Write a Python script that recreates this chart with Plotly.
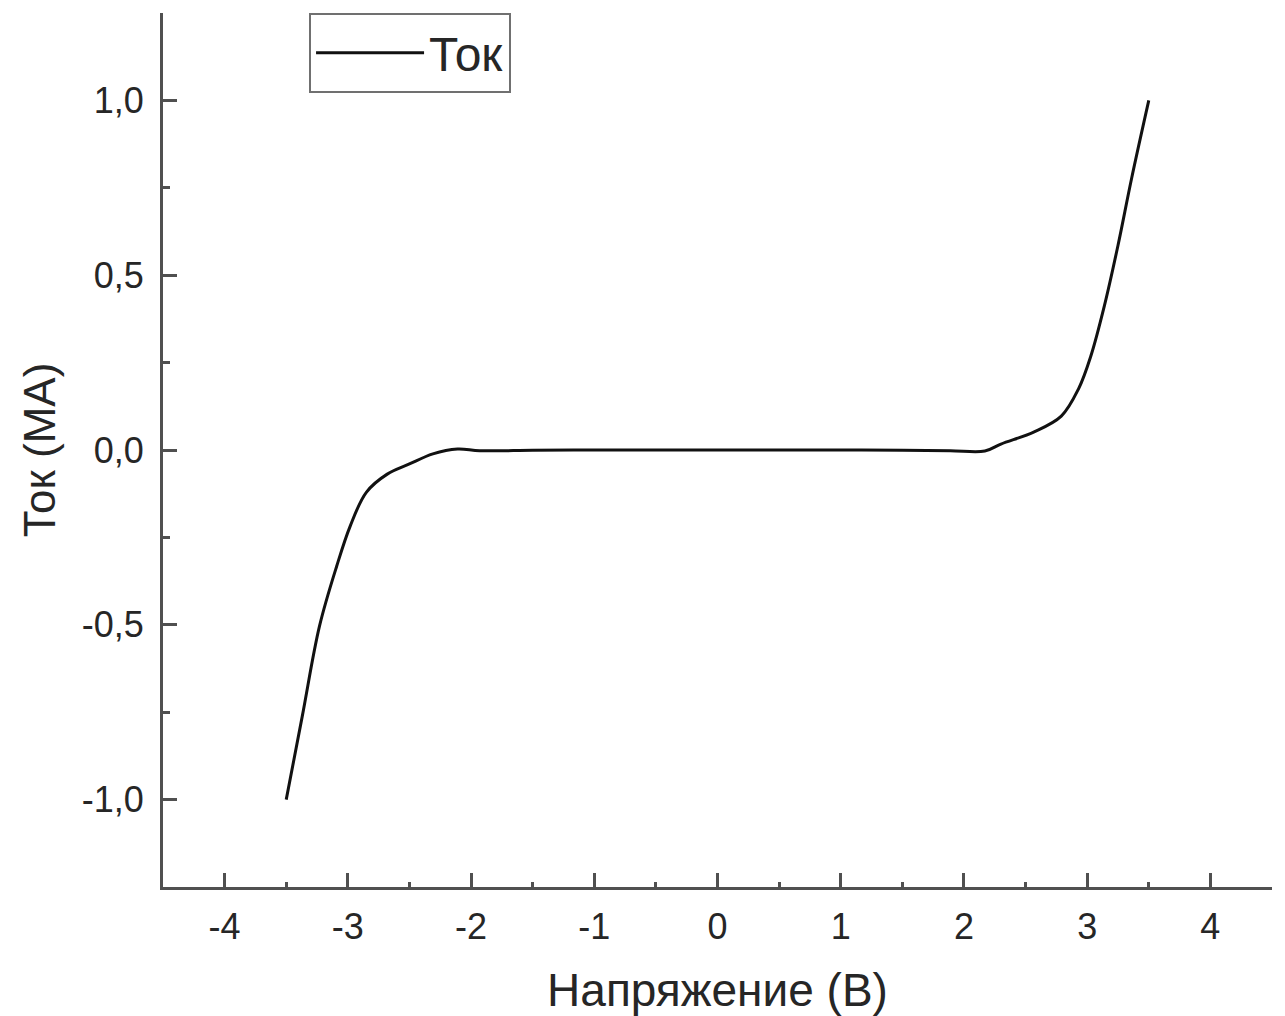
import plotly.graph_objects as go

# Data (voltage in V, current in mA)
voltage = [-3.50, -3.37, -3.23, -3.09, -2.98, -2.85, -2.68, -2.50, -2.31, -2.11, -1.93,
           -1.5, -1.0, -0.5, 0.0, 0.5, 1.0, 1.5, 1.89, 2.17, 2.30, 2.57, 2.79, 2.93,
           3.03, 3.14, 3.25, 3.36, 3.50]
current = [-1.0, -0.762, -0.504, -0.332, -0.217, -0.121, -0.069, -0.040, -0.011, 0.003, -0.002,
           -0.001, 0.0, 0.0, 0.0, 0.0, 0.0, -0.001, -0.002, -0.003, 0.017, 0.052, 0.097, 0.175,
           0.269, 0.413, 0.585, 0.776, 1.0]

series_name = "Ток"
x_title = "Напряжение (В)"
y_title = "Ток (МА)"
x_tickvals = [-4, -3, -2, -1, 0, 1, 2, 3, 4]
x_ticktext = ["-4", "-3", "-2", "-1", "0", "1", "2", "3", "4"]
y_tickvals = [-1.0, -0.5, 0.0, 0.5, 1.0]
y_ticktext = ["-1,0", "-0,5", "0,0", "0,5", "1,0"]

FONT = "Liberation Sans, Arial, sans-serif"
AXIS_COLOR = "#505050"
TEXT_COLOR = "#262626"

fig = go.Figure()
fig.add_trace(go.Scatter(
    x=voltage, y=current, mode="lines", name=series_name,
    line=dict(color="#111111", width=3, shape="spline", smoothing=1.0),
))

axis_common = dict(
    showline=True, linewidth=3, linecolor=AXIS_COLOR,
    ticks="inside", ticklen=14, tickwidth=3, tickcolor=AXIS_COLOR,
    showgrid=False, zeroline=False, mirror=False,
    tickfont=dict(family=FONT, size=36, color=TEXT_COLOR),
    tickmode="array",
)

fig.update_xaxes(
    **axis_common,
    range=[-4.5, 4.5],
    tickvals=x_tickvals, ticktext=x_ticktext,
    minor=dict(ticks="inside", ticklen=5, tickwidth=3, tickcolor=AXIS_COLOR,
               tickmode="linear", tick0=0.5, dtick=1.0),
    title=dict(text=x_title, standoff=40,
               font=dict(family=FONT, size=46, color=TEXT_COLOR)),
    ticklabelstandoff=6,
)
fig.update_yaxes(
    **axis_common,
    range=[-1.25, 1.25],
    tickvals=y_tickvals, ticktext=y_ticktext,
    minor=dict(ticks="inside", ticklen=7, tickwidth=3, tickcolor=AXIS_COLOR,
               tickmode="linear", tick0=0.25, dtick=0.5),
    title=dict(text=y_title, standoff=13,
               font=dict(family=FONT, size=44, color=TEXT_COLOR)),
    ticklabelstandoff=9,
)

fig.update_layout(
    width=1270, height=1008,
    margin=dict(l=155, r=6, t=5, b=129, autoexpand=False),
    paper_bgcolor="white", plot_bgcolor="white",
    font=dict(family=FONT, color=TEXT_COLOR),
    showlegend=True,
    legend=dict(
        x=0.1317, y=1.0, xanchor="left", yanchor="top",
        bgcolor="white", bordercolor="#707070", borderwidth=2,
        font=dict(family=FONT, size=48, color=TEXT_COLOR),
        itemwidth=108, tracegroupgap=0,
    ),
)

fig.write_html("out.html")
